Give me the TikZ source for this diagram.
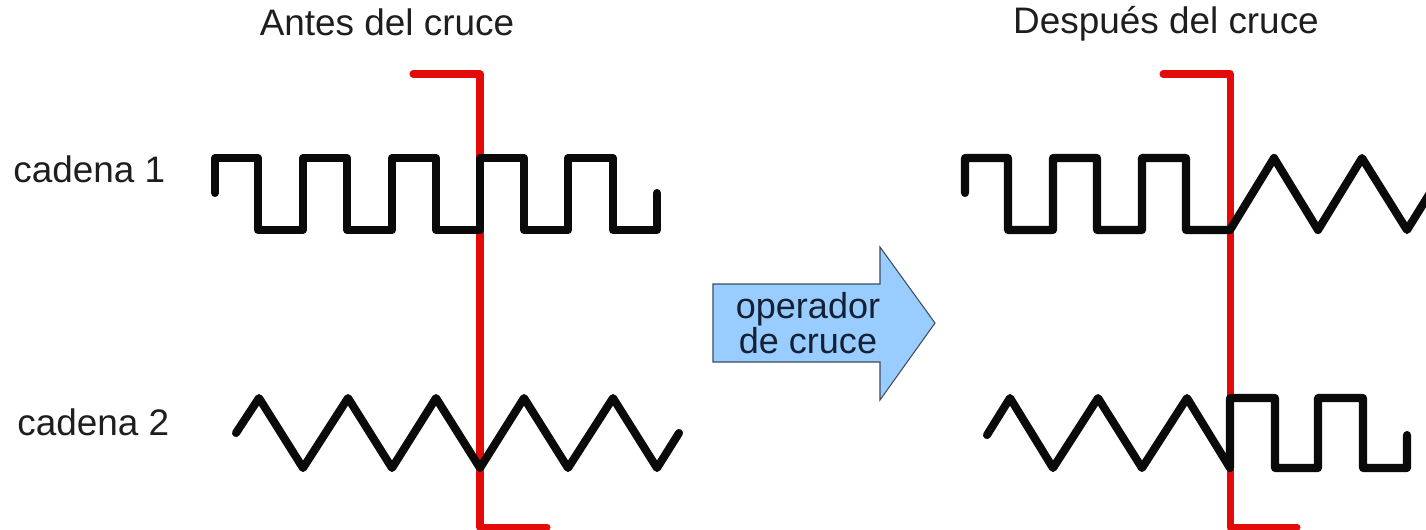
\documentclass[tikz,border=0pt]{standalone}
\usepackage{fontspec}
\setmainfont{Liberation Sans}
\usepackage{tikz}
\definecolor{CutRed}     {RGB}{228,  10,  10}
\definecolor{StrandBlack}{RGB}{ 10,  10,  10}
\definecolor{TextGray}   {RGB}{ 30,  30,  30}
\definecolor{ArrowBlue}  {RGB}{153, 204, 255}
\definecolor{ArrowEdge}  {RGB}{ 60,  75,  95}
\definecolor{ArrowText}  {RGB}{ 20,  32,  52}
\tikzset{
  % Chromosome strand (black wave)
  strand/.style={
    draw=StrandBlack, line width=4.6pt,
    line cap=round, line join=round
  },
  % Crossover cut line
  cutline/.style={
    draw=CutRed, line width=4pt,
    line cap=round, line join=round
  },
  % Block arrow for the operator
  xoverarrow/.style={
    fill=ArrowBlue, draw=ArrowEdge, line width=0.6pt
  },
  % Panel titles and strand labels
  title/.style={
    font=\fontsize{21}{25}\selectfont, text=TextGray,
    inner sep=0pt, anchor=base
  },
  strandlabel/.style={
    font=\fontsize{21}{25}\selectfont, text=TextGray,
    inner sep=0pt, anchor=base west
  },
  oplabel/.style={
    font=\fontsize{20.5}{19.9}\selectfont, text=ArrowText,
    inner sep=0pt, align=center
  }
}

\begin{document}
\begin{tikzpicture}[x=0.02cm, y=-0.02cm]

  \useasboundingbox (0,0) rectangle (1426,529);

  % ── TITLES ───────────────────────────────────────────────────────────────
  \node[title] (before_ttl) at (387,35) {Antes del cruce};
  \node[title] (after_ttl)  at (1166,33) {Después del cruce};

  \node[strandlabel] (lbl_one) at (13,182) {cadena 1};
  \node[strandlabel] (lbl_two) at (17,435) {cadena 2};

  % ── BEFORE: cut line ─────────────────────────────────────────────────────
  \draw[cutline] (413,74) -- (480,74) -- (480,527) -- (547,527);

  % ── BEFORE: strands ──────────────────────────────────────────────────────
  % cadena 1: square wave
  \draw[strand] (215,193) -- (215,158) -- (258,158) -- (258,230)
        -- (303,230) -- (303,158) -- (347,158) -- (347,230)
        -- (392,230) -- (392,158) -- (436,158) -- (436,230)
        -- (480,230) -- (480,158) -- (524,158) -- (524,230)
        -- (568,230) -- (568,158) -- (613,158) -- (613,230)
        -- (657,230) -- (657,193);

  % cadena 2: triangle wave
  \draw[strand] (236,433) -- (259,398) -- (303,468) -- (348,398)
        -- (392,468) -- (436,398) -- (480,468) -- (524,398)
        -- (568,468) -- (613,398) -- (657,468) -- (679,433);

  % ── OPERATOR ARROW ───────────────────────────────────────────────────────
  \draw[xoverarrow] (713,284) -- (880,284) -- (880,247) -- (935,323)
        -- (880,400) -- (880,362) -- (713,362) -- cycle;
  \node[oplabel] (op_lbl) at (808,323) {operador\\de cruce};

  % ── AFTER: cut line ──────────────────────────────────────────────────────
  \draw[cutline] (1163,74) -- (1230,74) -- (1230,527) -- (1297,527);

  % ── AFTER: strands ───────────────────────────────────────────────────────
  % cadena 1: square head, triangle tail
  \draw[strand] (965,193) -- (965,158) -- (1008,158) -- (1008,230)
        -- (1053,230) -- (1053,158) -- (1097,158) -- (1097,230)
        -- (1142,230) -- (1142,158) -- (1186,158) -- (1186,230)
        -- (1230,230) -- (1274,158) -- (1318,230) -- (1362,158)
        -- (1407,230) -- (1430,193);

  % cadena 2: triangle head, square tail
  \draw[strand] (987,435) -- (1010,398) -- (1053,468) -- (1098,398)
        -- (1142,468) -- (1187,398) -- (1230,468) -- (1230,398)
        -- (1275,398) -- (1275,468) -- (1318,468) -- (1318,398)
        -- (1363,398) -- (1363,468) -- (1407,468) -- (1407,435);

\end{tikzpicture}
\end{document}
